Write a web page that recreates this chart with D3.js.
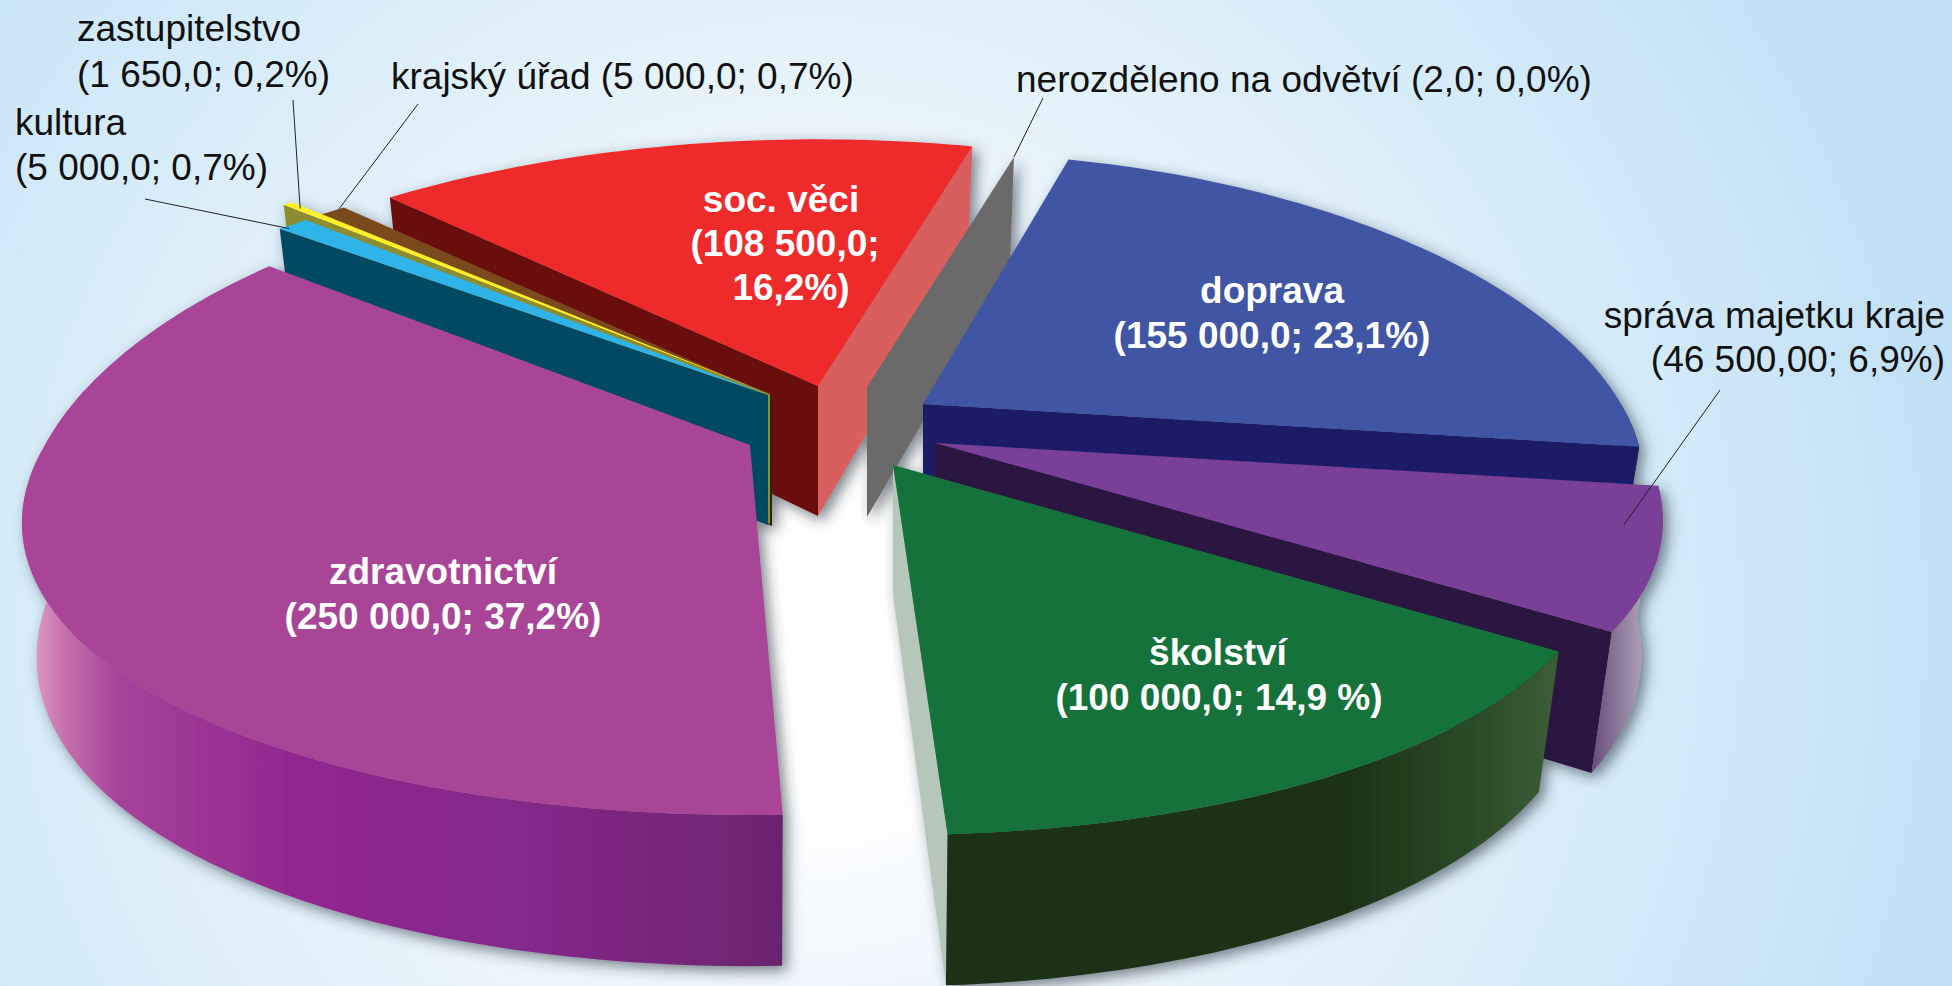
<!DOCTYPE html>
<html><head><meta charset="utf-8">
<style>html,body{margin:0;padding:0;overflow:hidden;background:#fff}svg{display:block}text{font-family:"Liberation Sans",Arial,sans-serif}</style>
<script src="https://cdn.jsdelivr.net/npm/d3@7"></script>
</head><body><svg id="c" width="1952" height="986"></svg>
<script>
// --- data ---
const categories = ["nerozděleno na odvětví","doprava","správa majetku kraje","školství","zdravotnictví","kultura","zastupitelstvo","krajský úřad","soc. věci"];
const values = [2,155000,46500,100000,250000,5000,1650,5000,108500];
const valueLabels = ["2,0; 0,0%","155 000,0; 23,1%","46 500,00; 6,9%","100 000,0; 14,9 %","250 000,0; 37,2%","5 000,0; 0,7%","1 650,0; 0,2%","5 000,0; 0,7%","108 500,0;"];

// --- layout of the exploded slices ---
const W=1952,H=986;
const apexX=[867,923,935,893,750,768,770,772,818];
const apexY=[387,404,443,465,445,395,394,396,386];
const radX =[1.00,0.99,1.00,0.98,1.00,1.055,1.11,1.05,1.05];
const radY =[0.96,1.00,1.00,1.00,1.00,0.98,1.00,1.00,1.00];
const backY=[1,1.02,1,1,1.1,1,1.06,1,1];
const adjS =[0,0,0,1,1.4,-0.3,0,0,0];   // perspective correction of the slice edges, degrees
const adjE =[0,0,1.5,0,-2.5,0,0,0,0];
const shrink=[0.97,0.97,0.97,0.97,0.98,0.97,0.97,0.97,0.97];
const Rx=705,Ry=296,qx=0.25,qy=0.2,depth=130,depthGrow=0.00044;
// --- styles ---
const topFill=["#6a6a6a","#3f54a3","#7a4198","#17723a","#a94497","#2fb4e9","#ffef2a","#7a4a1e","#ee2a2a"];
const faceStart=["#6a6a6a",null,null,null,null,"#064a64","#8c8c32","#2e2410","#6b0d0d"];
const faceEnd=[null,"#1f1f66","#2c123f","#b7c6bb",null,null,null,null,"#d95e5e"];
const drawOrder=[8,0,7,6,5,4,1,2,3];

const svg=d3.select("#c");
const defs=svg.append("defs");
const bg=defs.append("radialGradient").attr("id","bg").attr("gradientUnits","userSpaceOnUse")
  .attr("cx",810).attr("cy",620).attr("r",1170);
[[0,"#ffffff"],[0.14,"#ffffff"],[0.33,"#eff6fc"],[0.46,"#e6f3fb"],[0.8,"#cfe8f8"],[1,"#c1e0f5"]]
 .forEach(s=>bg.append("stop").attr("offset",s[0]).attr("stop-color",s[1]));
const f=defs.append("filter").attr("id","sh").attr("x","-5%").attr("y","-5%").attr("width","110%").attr("height","110%");
f.append("feDropShadow").attr("dx",5).attr("dy",5).attr("stdDeviation",7).attr("flood-color","#25333a").attr("flood-opacity",0.6);

function grad(id,x1,x2,stops){
  const g=defs.append("linearGradient").attr("id",id).attr("gradientUnits","userSpaceOnUse")
    .attr("x1",x1).attr("x2",x2).attr("y1",0).attr("y2",0);
  stops.forEach(s=>g.append("stop").attr("offset",s[0]).attr("stop-color",s[1]));
  return "url(#"+id+")";
}
const wallFill=["#6a6a6a","#1f1f66",null,null,null,"#064a64","#8c8c32","#2e2410","#6b0d0d"];
wallFill[4]=grad("wz",28,783,[[0,"#e0a3cb"],[0.05,"#c56fab"],[0.12,"#a5439a"],[0.35,"#92278f"],[0.65,"#84298a"],[1,"#6b2470"]]);
wallFill[3]=grad("ws",953,1565,[[0,"#1b3016"],[0.65,"#1c3317"],[0.85,"#2c4a28"],[1,"#3d5f38"]]);
wallFill[2]=grad("wp",1585,1650,[[0,"#5f4274"],[0.5,"#8a7898"],[1,"#b9abc0"]]);

svg.append("rect").attr("width",W).attr("height",H).attr("fill","url(#bg)");

const rad=Math.PI/180;
const start=15*rad;
const arcs=d3.pie().sort(null).startAngle(start).endAngle(start+2*Math.PI)(values);
arcs.forEach((a,i)=>{a.a0=a.startAngle+adjS[i]*rad;a.a1=a.endAngle+adjE[i]*rad;});

function project(i,t,r=1){
  const X=Math.sin(t)*r,Y=Math.cos(t)*r;
  return [apexX[i]+Rx*radX[i]*X/(1+qx*Y), apexY[i]-Ry*radY[i]*(Y>0?backY[i]:1)*Y/(1+qy*Y)];
}
function lower(i,p){
  return [apexX[i]+(p[0]-apexX[i])*shrink[i], p[1]+depth*(1+depthGrow*(p[1]-apexY[i]))];
}
function arcPts(i,a0,a1){
  const n=Math.max(2,Math.ceil(Math.abs(a1-a0)/0.02));
  return d3.range(n+1).map(k=>project(i,a0+(a1-a0)*k/n));
}
const line=d3.line().curve(d3.curveLinear);
const closed=pts=>line(pts)+"Z";

const pie=svg.append("g").attr("filter","url(#sh)");
drawOrder.forEach(i=>{
  const a=arcs[i],A=[apexX[i],apexY[i]],g=pie.append("g");
  const a0=a.a0,a1=a.a1;
  const pS=project(i,a0),pE=project(i,a1);
  if(faceEnd[i]) g.append("path").attr("d",closed([A,pE,lower(i,pE),lower(i,A)])).attr("fill",faceEnd[i]);
  if(faceStart[i]) g.append("path").attr("d",closed([A,pS,lower(i,pS),lower(i,A)])).attr("fill",faceStart[i]);
  const w0=Math.max(a0,90*rad),w1=Math.min(a1,280*rad);
  if(w1>w0){
    const wt=arcPts(i,w0,w1);
    g.append("path").attr("d",closed(wt.concat(wt.map(p=>lower(i,p)).reverse()))).attr("fill",wallFill[i]);
  }
  g.append("path").attr("d",closed([A].concat(arcPts(i,a0,a1)))).attr("fill",topFill[i]);
});

// --- labels ---
const fs=37;
const darkLabels=[
 {t:"zastupitelstvo",x:77,y:41},{t:"("+valueLabels[6]+")",x:77,y:87},
 {t:"krajský úřad ("+valueLabels[7]+")",x:391,y:89},
 {t:"kultura",x:15,y:135},{t:"("+valueLabels[5]+")",x:15,y:180},
 {t:"nerozděleno na odvětví ("+valueLabels[0]+")",x:1016,y:92},
 {t:"správa majetku kraje",x:1945,y:328,a:"end"},{t:"("+valueLabels[2]+")",x:1945,y:372,a:"end"}
];
svg.selectAll("text.d").data(darkLabels).join("text").attr("class","d")
 .attr("x",d=>d.x).attr("y",d=>d.y).attr("text-anchor",d=>d.a||"start")
 .attr("font-size",fs).attr("fill","#111").text(d=>d.t);
const whiteLabels=[
 {t:categories[8],x:781,y:212},{t:"("+valueLabels[8],x:785,y:256},{t:"16,2%)",x:791,y:300},
 {t:categories[1],x:1272,y:303},{t:"("+valueLabels[1]+")",x:1272,y:348},
 {t:categories[3],x:1218,y:665},{t:"("+valueLabels[3]+")",x:1219,y:710},
 {t:categories[4],x:443,y:584},{t:"("+valueLabels[4]+")",x:443,y:629}
];
svg.selectAll("text.w").data(whiteLabels).join("text").attr("class","w")
 .attr("x",d=>d.x).attr("y",d=>d.y).attr("text-anchor","middle")
 .attr("font-size",fs).attr("font-weight","bold").attr("fill","#fff").text(d=>d.t);

// --- leader lines: label end -> point on the slice ---
const leaders=[
 {i:5,x:145,y:199,r:0.99,f:0.2},{i:6,x:293,y:100,r:0.97,f:0.5},{i:7,x:418,y:104,r:1,f:0.8},
 {i:0,x:1043,y:98,r:1,f:0.5},{i:2,x:1720,y:390,r:0.95,f:0.3}
];
const ptOf=d=>project(d.i,arcs[d.i].a0+(arcs[d.i].a1-arcs[d.i].a0)*d.f,d.r);
svg.selectAll("line.l").data(leaders).join("line").attr("class","l")
 .attr("x1",d=>d.x).attr("y1",d=>d.y)
 .attr("x2",d=>ptOf(d)[0]).attr("y2",d=>ptOf(d)[1])
 .attr("stroke","#222").attr("stroke-width",1);
</script></body></html>
